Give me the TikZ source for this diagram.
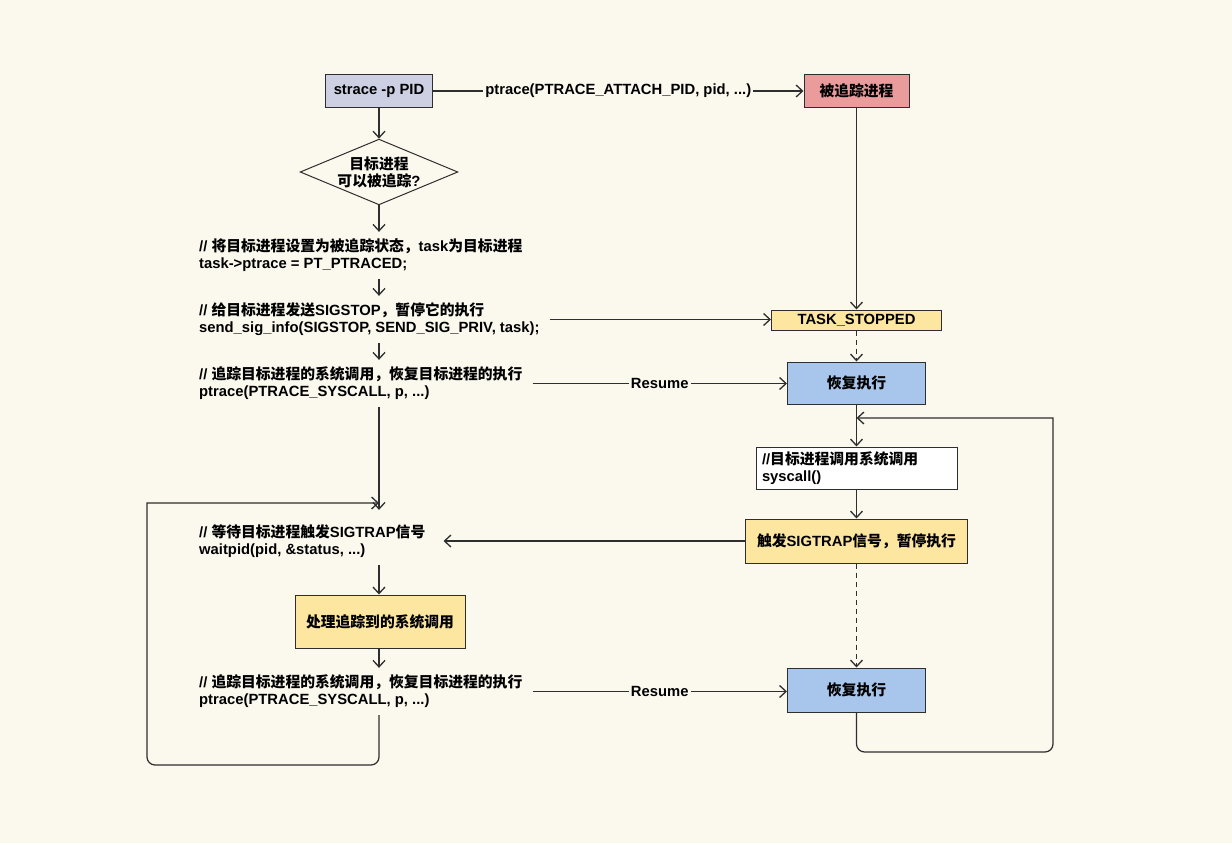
\documentclass[tikz,border=0pt]{standalone}
\usepackage{fontspec}
\setmainfont{Liberation Sans}
\newfontfamily\cjk{Noto Sans CJK SC}
\usetikzlibrary{positioning, arrows.meta, shapes.geometric}

\definecolor{bgcream}{HTML}{FBF8EE}
\definecolor{cmdblue}{HTML}{CDD0E3}
\definecolor{procred}{HTML}{EA9C9C}
\definecolor{stopyellow}{HTML}{FDE6A0}
\definecolor{runblue}{HTML}{A8C6EC}
\definecolor{inkgray}{HTML}{2E2E2E}

\newcommand{\zh}[1]{{\cjk #1}}

\begin{document}
\begin{tikzpicture}[
    x=1pt, y=-1pt,
    font=\bfseries\fontsize{14.8}{17}\selectfont,
    % --- STYLES ---
    box/.style={
            draw=inkgray,
            line width=1pt,
            align=center,
            inner sep=0pt
        },
    cmt/.style={
            anchor=west,
            align=left,
            inner xsep=0pt,
            inner ysep=7pt
        },
    flow/.style={
    -{Straight Barb[length=6.5pt, width=12pt, line width=1.3pt]},
    line width=1.2pt,
    color=inkgray
    },
    dashflow/.style={
    flow,
    dash pattern=on 5pt off 4pt
    },
    lbl/.style={
            midway,
            fill=bgcream,
            inner sep=2pt,
            text=black
        }
    ]

    % --- BACKGROUND ---
    \fill[bgcream] (0,0) rectangle (1232,843);

    % --- TRACER (LEFT COLUMN) ---
    \node[box, fill=cmdblue, minimum width=107pt, minimum height=32pt] (strace) at (379,91) {strace -p PID};
    \node[box, diamond, shape aspect=2.4, minimum width=153pt, minimum height=64pt, fill=bgcream] (check) at (379,172)
        {\zh{目标进程}\\\zh{可以被追踪}?};
    \node[cmt] (setflag) at (199,255.5)
        {// \zh{将目标进程设置为被追踪状态，}task\zh{为目标进程}\\task->ptrace = PT\_PTRACED;};
    \node[cmt] (sendstop) at (199,319.5)
        {// \zh{给目标进程发送}SIGSTOP\zh{，暂停它的执行}\\send\_sig\_info(SIGSTOP, SEND\_SIG\_PRIV, task);};
    \node[cmt] (syscall1) at (199,383.5)
        {// \zh{追踪目标进程的系统调用，恢复目标进程的执行}\\ptrace(PTRACE\_SYSCALL, p, ...)};
    \node[cmt] (wait) at (199,541.5)
        {// \zh{等待目标进程触发}SIGTRAP\zh{信号}\\waitpid(pid, \&status, ...)};
    \node[box, fill=stopyellow, minimum width=170pt, minimum height=53pt] (handle) at (380,621.5)
        {\zh{处理追踪到的系统调用}};
    \node[cmt] (syscall2) at (199,691.5)
        {// \zh{追踪目标进程的系统调用，恢复目标进程的执行}\\ptrace(PTRACE\_SYSCALL, p, ...)};

    % --- TRACEE (RIGHT COLUMN) ---
    \node[box, fill=procred, minimum width=105pt, minimum height=32pt] (target) at (856.5,91) {\zh{被追踪进程}};
    \node[box, fill=stopyellow, minimum width=170pt, minimum height=20pt] (stopped) at (856.5,320) {TASK\_STOPPED};
    \node[box, fill=runblue, minimum width=138pt, minimum height=42pt] (resume1) at (856.5,383) {\zh{恢复执行}};
    \node[box, fill=white, minimum width=201pt, minimum height=42pt, align=left, text width=189pt, inner xsep=6pt] (call) at (856.5,468)
        {//\zh{目标进程调用系统调用}\\syscall()};
    \node[box, fill=stopyellow, minimum width=222pt, minimum height=44pt] (sigtrap) at (856.5,541)
        {\zh{触发}SIGTRAP\zh{信号，暂停执行}};
    \node[box, fill=runblue, minimum width=138pt, minimum height=44pt] (resume2) at (856.5,690) {\zh{恢复执行}};

    \coordinate (rejoinL) at (379,503);
    \coordinate (rejoinR) at (856.5,418);

    % --- FLOW, LEFT ---
    \draw[flow] (strace) -- (check);
    \draw[flow] (check.south) -- (check.south |- setflag.north);
    \draw[flow] (check.south |- setflag.south) -- (check.south |- sendstop.north);
    \draw[flow] (check.south |- sendstop.south) -- (check.south |- syscall1.north);
    \draw[flow, shorten >=8pt] (check.south |- syscall1.south) -- (check.south |- wait.north);
    \draw[flow] (check.south |- wait.south) -- (check.south |- handle.north);
    \draw[flow] (check.south |- handle.south) -- (check.south |- syscall2.north);

    % loop back to waitpid
    \draw[flow] (check.south |- syscall2.south) [rounded corners=8pt] -- (379,765) -- (147,765)
        [sharp corners] -- (147,503) -- (rejoinL);

    % --- FLOW, RIGHT ---
    \draw[flow] (target) -- (stopped);
    \draw[dashflow] (stopped) -- (resume1);
    \draw[flow] (resume1) -- (call);
    \draw[flow] (call) -- (sigtrap);
    \draw[dashflow] (sigtrap) -- (resume2);

    % loop back to syscall
    \draw[flow] (resume2.south) [rounded corners=8pt] -- (856.5,752) -- (1053,752)
        [sharp corners] -- (1053,418) -- (rejoinR);

    % --- ACROSS ---
    \draw[flow] (strace) -- node[lbl] {ptrace(PTRACE\_ATTACH\_PID, pid, ...)} (target);
    \draw[flow] ([xshift=10pt]sendstop.east) -- (stopped.west |- sendstop.east);
    \draw[flow] ([xshift=10pt]syscall1.east) -- node[lbl] {Resume} (resume1.west |- syscall1.east);
    \draw[flow, shorten >=18pt] (sigtrap.west) -- (wait.east |- sigtrap.west);
    \draw[flow] ([xshift=10pt]syscall2.east) -- node[lbl] {Resume} (resume2.west |- syscall2.east);

\end{tikzpicture}
\end{document}
